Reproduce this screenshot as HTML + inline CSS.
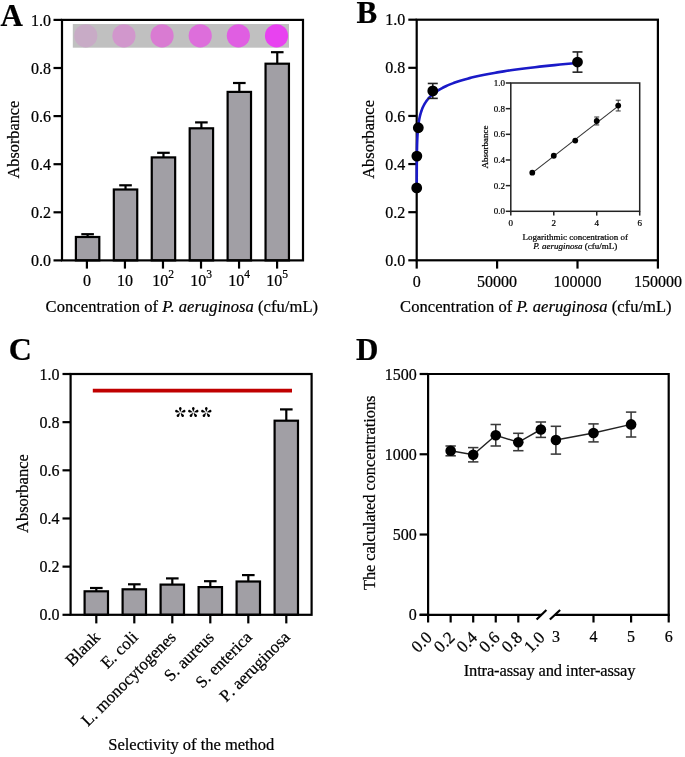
<!DOCTYPE html>
<html><head><meta charset="utf-8"><style>
html,body{margin:0;padding:0;background:#fff;}
svg{display:block;will-change:transform;}
text{font-family:"Liberation Serif",serif;fill:#000;stroke:#000;stroke-width:0.22px;}
</style></head><body>
<svg width="685" height="757" viewBox="0 0 685 757">
<rect width="685" height="757" fill="#fff"/>
<rect x="72.8" y="24" width="216.2" height="23.7" fill="#c0c0c0"/>
<circle cx="85.8" cy="35.8" r="11.6" fill="#c8abc6"/>
<circle cx="123.94" cy="35.8" r="11.6" fill="#d197cc"/>
<circle cx="162.08" cy="35.8" r="11.6" fill="#d97bd2"/>
<circle cx="200.22" cy="35.8" r="11.6" fill="#dd6edb"/>
<circle cx="238.36" cy="35.8" r="11.6" fill="#e05ee2"/>
<circle cx="276.5" cy="35.8" r="11.6" fill="#e842f0"/>
<line x1="87.6" y1="237" x2="87.6" y2="234.2" stroke="#000" stroke-width="2.2" />
<line x1="81.3" y1="234.2" x2="93.9" y2="234.2" stroke="#000" stroke-width="2.2" />
<rect x="75.9" y="237" width="23.4" height="23.4" fill="#a19fa5" stroke="#000" stroke-width="2.2"/>
<line x1="125.53" y1="189.5" x2="125.53" y2="185.3" stroke="#000" stroke-width="2.2" />
<line x1="119.23" y1="185.3" x2="131.83" y2="185.3" stroke="#000" stroke-width="2.2" />
<rect x="113.83" y="189.5" width="23.4" height="70.9" fill="#a19fa5" stroke="#000" stroke-width="2.2"/>
<line x1="163.46" y1="157.4" x2="163.46" y2="152.8" stroke="#000" stroke-width="2.2" />
<line x1="157.16" y1="152.8" x2="169.76" y2="152.8" stroke="#000" stroke-width="2.2" />
<rect x="151.76" y="157.4" width="23.4" height="103" fill="#a19fa5" stroke="#000" stroke-width="2.2"/>
<line x1="201.39" y1="128.3" x2="201.39" y2="122.4" stroke="#000" stroke-width="2.2" />
<line x1="195.09" y1="122.4" x2="207.69" y2="122.4" stroke="#000" stroke-width="2.2" />
<rect x="189.69" y="128.3" width="23.4" height="132.1" fill="#a19fa5" stroke="#000" stroke-width="2.2"/>
<line x1="239.32" y1="91.9" x2="239.32" y2="83" stroke="#000" stroke-width="2.2" />
<line x1="233.02" y1="83" x2="245.62" y2="83" stroke="#000" stroke-width="2.2" />
<rect x="227.62" y="91.9" width="23.4" height="168.5" fill="#a19fa5" stroke="#000" stroke-width="2.2"/>
<line x1="277.25" y1="63.7" x2="277.25" y2="52.2" stroke="#000" stroke-width="2.2" />
<line x1="270.95" y1="52.2" x2="283.55" y2="52.2" stroke="#000" stroke-width="2.2" />
<rect x="265.55" y="63.7" width="23.4" height="196.7" fill="#a19fa5" stroke="#000" stroke-width="2.2"/>
<rect x="62" y="19.9" width="241" height="240.5" fill="none" stroke="#000" stroke-width="2.2"/>
<line x1="53.5" y1="260.4" x2="62" y2="260.4" stroke="#000" stroke-width="2.2" />
<text x="51" y="266" font-size="16" text-anchor="end" >0.0</text>
<line x1="53.5" y1="212.3" x2="62" y2="212.3" stroke="#000" stroke-width="2.2" />
<text x="51" y="217.9" font-size="16" text-anchor="end" >0.2</text>
<line x1="53.5" y1="164.2" x2="62" y2="164.2" stroke="#000" stroke-width="2.2" />
<text x="51" y="169.8" font-size="16" text-anchor="end" >0.4</text>
<line x1="53.5" y1="116.1" x2="62" y2="116.1" stroke="#000" stroke-width="2.2" />
<text x="51" y="121.7" font-size="16" text-anchor="end" >0.6</text>
<line x1="53.5" y1="68" x2="62" y2="68" stroke="#000" stroke-width="2.2" />
<text x="51" y="73.6" font-size="16" text-anchor="end" >0.8</text>
<line x1="53.5" y1="19.9" x2="62" y2="19.9" stroke="#000" stroke-width="2.2" />
<text x="51" y="25.5" font-size="16" text-anchor="end" >1.0</text>
<line x1="86.9" y1="260.4" x2="86.9" y2="268.6" stroke="#000" stroke-width="2.2" />
<line x1="124.94" y1="260.4" x2="124.94" y2="268.6" stroke="#000" stroke-width="2.2" />
<line x1="162.98" y1="260.4" x2="162.98" y2="268.6" stroke="#000" stroke-width="2.2" />
<line x1="201.02" y1="260.4" x2="201.02" y2="268.6" stroke="#000" stroke-width="2.2" />
<line x1="239.06" y1="260.4" x2="239.06" y2="268.6" stroke="#000" stroke-width="2.2" />
<line x1="277.1" y1="260.4" x2="277.1" y2="268.6" stroke="#000" stroke-width="2.2" />
<text x="86.9" y="286" font-size="16" text-anchor="middle" >0</text>
<text x="124.94" y="286" font-size="16" text-anchor="middle" >10</text>
<text x="152.18" y="286" font-size="16" text-anchor="start" >10<tspan dy="-8.3" font-size="11.5">2</tspan></text>
<text x="190.22" y="286" font-size="16" text-anchor="start" >10<tspan dy="-8.3" font-size="11.5">3</tspan></text>
<text x="228.26" y="286" font-size="16" text-anchor="start" >10<tspan dy="-8.3" font-size="11.5">4</tspan></text>
<text x="266.3" y="286" font-size="16" text-anchor="start" >10<tspan dy="-8.3" font-size="11.5">5</tspan></text>
<text x="45.6" y="311.8" font-size="16.5" textLength="272.5" lengthAdjust="spacing">Concentration of <tspan font-style="italic">P. aeruginosa</tspan> (cfu/mL)</text>
<text transform="translate(19.3,139.6) rotate(-90)" font-size="16.3" text-anchor="middle">Absorbance</text>
<text x="0.5" y="25.9" font-size="31" font-weight="bold">A</text>
<rect x="416.7" y="19.7" width="241.2" height="240.6" fill="none" stroke="#000" stroke-width="2.2"/>
<line x1="408.3" y1="260.3" x2="416.7" y2="260.3" stroke="#000" stroke-width="2.2" />
<text x="405.2" y="265.9" font-size="16" text-anchor="end" >0.0</text>
<line x1="408.3" y1="212.18" x2="416.7" y2="212.18" stroke="#000" stroke-width="2.2" />
<text x="405.2" y="217.78" font-size="16" text-anchor="end" >0.2</text>
<line x1="408.3" y1="164.06" x2="416.7" y2="164.06" stroke="#000" stroke-width="2.2" />
<text x="405.2" y="169.66" font-size="16" text-anchor="end" >0.4</text>
<line x1="408.3" y1="115.94" x2="416.7" y2="115.94" stroke="#000" stroke-width="2.2" />
<text x="405.2" y="121.54" font-size="16" text-anchor="end" >0.6</text>
<line x1="408.3" y1="67.82" x2="416.7" y2="67.82" stroke="#000" stroke-width="2.2" />
<text x="405.2" y="73.42" font-size="16" text-anchor="end" >0.8</text>
<line x1="408.3" y1="19.7" x2="416.7" y2="19.7" stroke="#000" stroke-width="2.2" />
<text x="405.2" y="25.3" font-size="16" text-anchor="end" >1.0</text>
<line x1="416.7" y1="260.3" x2="416.7" y2="268.6" stroke="#000" stroke-width="2.2" />
<text x="416.7" y="287" font-size="16" text-anchor="middle" >0</text>
<line x1="497.1" y1="260.3" x2="497.1" y2="268.6" stroke="#000" stroke-width="2.2" />
<text x="497.1" y="287" font-size="16" text-anchor="middle" >50000</text>
<line x1="577.5" y1="260.3" x2="577.5" y2="268.6" stroke="#000" stroke-width="2.2" />
<text x="577.5" y="287" font-size="16" text-anchor="middle" >100000</text>
<line x1="657.9" y1="260.3" x2="657.9" y2="268.6" stroke="#000" stroke-width="2.2" />
<text x="657.9" y="287" font-size="16" text-anchor="middle" >150000</text>
<text x="400.1" y="311.8" font-size="16.5" textLength="271.5" lengthAdjust="spacing">Concentration of <tspan font-style="italic">P. aeruginosa</tspan> (cfu/mL)</text>
<text transform="translate(373.7,139.4) rotate(-90)" font-size="16.5" text-anchor="middle">Absorbance</text>
<text x="356.5" y="22.6" font-size="31" font-weight="bold">B</text>
<path d="M416.72,188.12 L416.72,187.6 L416.72,187.08 L416.72,186.56 L416.72,186.03 L416.72,185.51 L416.72,184.99 L416.72,184.47 L416.72,183.95 L416.72,183.43 L416.72,182.91 L416.72,182.39 L416.73,181.86 L416.73,181.34 L416.73,180.82 L416.73,180.3 L416.73,179.78 L416.73,179.26 L416.73,178.74 L416.73,178.22 L416.73,177.69 L416.74,177.17 L416.74,176.65 L416.74,176.13 L416.74,175.61 L416.74,175.09 L416.74,174.57 L416.75,174.04 L416.75,173.52 L416.75,173 L416.75,172.48 L416.75,171.96 L416.75,171.44 L416.76,170.92 L416.76,170.4 L416.76,169.87 L416.76,169.35 L416.77,168.83 L416.77,168.31 L416.77,167.79 L416.77,167.27 L416.78,166.75 L416.78,166.23 L416.78,165.7 L416.79,165.18 L416.79,164.66 L416.79,164.14 L416.8,163.62 L416.8,163.1 L416.81,162.58 L416.81,162.06 L416.81,161.53 L416.82,161.01 L416.82,160.49 L416.83,159.97 L416.83,159.45 L416.84,158.93 L416.84,158.41 L416.85,157.88 L416.85,157.36 L416.86,156.84 L416.87,156.32 L416.87,155.8 L416.88,155.28 L416.89,154.76 L416.89,154.24 L416.9,153.71 L416.91,153.19 L416.92,152.67 L416.93,152.15 L416.94,151.63 L416.95,151.11 L416.95,150.59 L416.96,150.07 L416.98,149.54 L416.99,149.02 L417,148.5 L417.01,147.98 L417.02,147.46 L417.03,146.94 L417.05,146.42 L417.06,145.89 L417.07,145.37 L417.09,144.85 L417.1,144.33 L417.12,143.81 L417.14,143.29 L417.15,142.77 L417.17,142.25 L417.19,141.72 L417.21,141.2 L417.23,140.68 L417.25,140.16 L417.27,139.64 L417.29,139.12 L417.32,138.6 L417.34,138.08 L417.37,137.55 L417.39,137.03 L417.42,136.51 L417.45,135.99 L417.48,135.47 L417.51,134.95 L417.54,134.43 L417.57,133.9 L417.6,133.38 L417.64,132.86 L417.68,132.34 L417.71,131.82 L417.75,131.3 L417.8,130.78 L417.84,130.26 L417.88,129.73 L417.93,129.21 L417.98,128.69 L418.03,128.17 L418.08,127.65 L418.13,127.13 L418.19,126.61 L418.25,126.09 L418.31,125.56 L418.37,125.04 L418.44,124.52 L418.5,124 L418.57,123.48 L418.65,122.96 L418.72,122.44 L418.8,121.91 L418.89,121.39 L418.97,120.87 L419.06,120.35 L419.15,119.83 L419.25,119.31 L419.35,118.79 L419.45,118.27 L419.56,117.74 L419.67,117.22 L419.79,116.7 L419.91,116.18 L420.03,115.66 L420.16,115.14 L420.3,114.62 L420.44,114.1 L420.59,113.57 L420.74,113.05 L420.9,112.53 L421.06,112.01 L421.23,111.49 L421.41,110.97 L421.59,110.45 L421.78,109.93 L421.98,109.4 L422.19,108.88 L422.41,108.36 L422.63,107.84 L422.86,107.32 L423.1,106.8 L423.35,106.28 L423.61,105.75 L423.88,105.23 L424.16,104.71 L424.46,104.19 L424.76,103.67 L425.07,103.15 L425.4,102.63 L425.74,102.11 L426.1,101.58 L426.46,101.06 L426.85,100.54 L427.24,100.02 L427.66,99.5 L428.08,98.98 L428.53,98.46 L428.99,97.94 L429.47,97.41 L429.97,96.89 L430.49,96.37 L431.03,95.85 L431.59,95.33 L432.17,94.81 L432.78,94.29 L433.41,93.76 L434.06,93.24 L434.74,92.72 L435.45,92.2 L436.18,91.68 L436.94,91.16 L437.74,90.64 L438.56,90.12 L439.41,89.59 L440.3,89.07 L441.23,88.55 L442.19,88.03 L443.18,87.51 L444.22,86.99 L445.29,86.47 L446.41,85.95 L447.58,85.42 L448.78,84.9 L450.04,84.38 L451.34,83.86 L452.7,83.34 L454.11,82.82 L455.57,82.3 L457.09,81.77 L458.67,81.25 L460.31,80.73 L462.02,80.21 L463.79,79.69 L465.63,79.17 L467.55,78.65 L469.54,78.13 L471.61,77.6 L473.75,77.08 L475.99,76.56 L478.31,76.04 L480.72,75.52 L483.22,75 L485.82,74.48 L488.53,73.96 L491.34,73.43 L494.26,72.91 L497.29,72.39 L500.44,71.87 L503.72,71.35 L507.12,70.83 L510.66,70.31 L514.34,69.78 L518.16,69.26 L522.13,68.74 L526.25,68.22 L530.54,67.7 L534.99,67.18 L539.62,66.66 L544.43,66.14 L549.42,65.61 L554.62,65.09 L560.01,64.57 L565.62,64.05 L571.45,63.53 L577.5,63.01" fill="none" stroke="#1a1ac8" stroke-width="2.6"/>
<circle cx="416.72" cy="187.88" r="5.4" fill="#000"/>
<circle cx="416.86" cy="156.12" r="5.4" fill="#000"/>
<circle cx="418.31" cy="127.73" r="5.4" fill="#000"/>
<line x1="432.78" y1="83.46" x2="432.78" y2="98.38" stroke="#222" stroke-width="1.6" />
<line x1="427.78" y1="83.46" x2="437.78" y2="83.46" stroke="#222" stroke-width="1.6" />
<line x1="427.78" y1="98.38" x2="437.78" y2="98.38" stroke="#222" stroke-width="1.6" />
<circle cx="432.78" cy="90.92" r="5.4" fill="#000"/>
<line x1="577.5" y1="51.94" x2="577.5" y2="72.15" stroke="#222" stroke-width="1.6" />
<line x1="572.5" y1="51.94" x2="582.5" y2="51.94" stroke="#222" stroke-width="1.6" />
<line x1="572.5" y1="72.15" x2="582.5" y2="72.15" stroke="#222" stroke-width="1.6" />
<circle cx="577.5" cy="62.05" r="5.4" fill="#000"/>
<rect x="510.8" y="83.0" width="128.9" height="128.3" fill="#fff" stroke="#222" stroke-width="1.5"/>
<line x1="505.8" y1="211.3" x2="510.8" y2="211.3" stroke="#222" stroke-width="1.5" />
<text x="505" y="214.4" font-size="9" text-anchor="end" >0.0</text>
<line x1="505.8" y1="185.64" x2="510.8" y2="185.64" stroke="#222" stroke-width="1.5" />
<text x="505" y="188.74" font-size="9" text-anchor="end" >0.2</text>
<line x1="505.8" y1="159.98" x2="510.8" y2="159.98" stroke="#222" stroke-width="1.5" />
<text x="505" y="163.08" font-size="9" text-anchor="end" >0.4</text>
<line x1="505.8" y1="134.32" x2="510.8" y2="134.32" stroke="#222" stroke-width="1.5" />
<text x="505" y="137.42" font-size="9" text-anchor="end" >0.6</text>
<line x1="505.8" y1="108.66" x2="510.8" y2="108.66" stroke="#222" stroke-width="1.5" />
<text x="505" y="111.76" font-size="9" text-anchor="end" >0.8</text>
<line x1="505.8" y1="83" x2="510.8" y2="83" stroke="#222" stroke-width="1.5" />
<text x="505" y="86.1" font-size="9" text-anchor="end" >1.0</text>
<line x1="510.8" y1="211.3" x2="510.8" y2="215.6" stroke="#222" stroke-width="1.5" />
<text x="510.8" y="226" font-size="9" text-anchor="middle" >0</text>
<line x1="553.77" y1="211.3" x2="553.77" y2="215.6" stroke="#222" stroke-width="1.5" />
<text x="553.77" y="226" font-size="9" text-anchor="middle" >2</text>
<line x1="596.73" y1="211.3" x2="596.73" y2="215.6" stroke="#222" stroke-width="1.5" />
<text x="596.73" y="226" font-size="9" text-anchor="middle" >4</text>
<line x1="639.7" y1="211.3" x2="639.7" y2="215.6" stroke="#222" stroke-width="1.5" />
<text x="639.7" y="226" font-size="9" text-anchor="middle" >6</text>
<text x="575.3" y="239.6" font-size="9" text-anchor="middle" >Logarithmic concentration of</text>
<text x="575.3" y="249.2" font-size="9" text-anchor="middle" ><tspan font-style="italic">P. aeruginosa</tspan> (cfu/mL)</text>
<text transform="translate(488,147) rotate(-90)" font-size="9" text-anchor="middle">Absorbance</text>
<line x1="532.28" y1="172.81" x2="618.22" y2="106.09" stroke="#333" stroke-width="1.1" />
<circle cx="532.28" cy="172.68" r="2.9" fill="#000"/>
<circle cx="553.77" cy="155.75" r="2.9" fill="#000"/>
<circle cx="575.25" cy="140.61" r="2.9" fill="#000"/>
<line x1="596.73" y1="117" x2="596.73" y2="124.95" stroke="#333" stroke-width="1" />
<line x1="594.23" y1="117" x2="599.23" y2="117" stroke="#333" stroke-width="1" />
<line x1="594.23" y1="124.95" x2="599.23" y2="124.95" stroke="#333" stroke-width="1" />
<circle cx="596.73" cy="120.98" r="2.9" fill="#000"/>
<line x1="618.22" y1="100.19" x2="618.22" y2="110.97" stroke="#333" stroke-width="1" />
<line x1="615.72" y1="100.19" x2="620.72" y2="100.19" stroke="#333" stroke-width="1" />
<line x1="615.72" y1="110.97" x2="620.72" y2="110.97" stroke="#333" stroke-width="1" />
<circle cx="618.22" cy="105.58" r="2.9" fill="#000"/>
<line x1="96.3" y1="591.3" x2="96.3" y2="588" stroke="#000" stroke-width="2.2" />
<line x1="90" y1="588" x2="102.6" y2="588" stroke="#000" stroke-width="2.2" />
<rect x="84.6" y="591.3" width="23.4" height="23.5" fill="#a19fa5" stroke="#000" stroke-width="2.2"/>
<line x1="134.3" y1="589.3" x2="134.3" y2="584.3" stroke="#000" stroke-width="2.2" />
<line x1="128" y1="584.3" x2="140.6" y2="584.3" stroke="#000" stroke-width="2.2" />
<rect x="122.6" y="589.3" width="23.4" height="25.5" fill="#a19fa5" stroke="#000" stroke-width="2.2"/>
<line x1="172.3" y1="584.6" x2="172.3" y2="578.4" stroke="#000" stroke-width="2.2" />
<line x1="166" y1="578.4" x2="178.6" y2="578.4" stroke="#000" stroke-width="2.2" />
<rect x="160.6" y="584.6" width="23.4" height="30.2" fill="#a19fa5" stroke="#000" stroke-width="2.2"/>
<line x1="210.3" y1="587.1" x2="210.3" y2="581.2" stroke="#000" stroke-width="2.2" />
<line x1="204" y1="581.2" x2="216.6" y2="581.2" stroke="#000" stroke-width="2.2" />
<rect x="198.6" y="587.1" width="23.4" height="27.7" fill="#a19fa5" stroke="#000" stroke-width="2.2"/>
<line x1="248.3" y1="581.5" x2="248.3" y2="575.1" stroke="#000" stroke-width="2.2" />
<line x1="242" y1="575.1" x2="254.6" y2="575.1" stroke="#000" stroke-width="2.2" />
<rect x="236.6" y="581.5" width="23.4" height="33.3" fill="#a19fa5" stroke="#000" stroke-width="2.2"/>
<line x1="286.3" y1="420.7" x2="286.3" y2="409.4" stroke="#000" stroke-width="2.2" />
<line x1="280" y1="409.4" x2="292.6" y2="409.4" stroke="#000" stroke-width="2.2" />
<rect x="274.6" y="420.7" width="23.4" height="194.1" fill="#a19fa5" stroke="#000" stroke-width="2.2"/>
<rect x="70.6" y="374.0" width="241" height="240.8" fill="none" stroke="#000" stroke-width="2.2"/>
<line x1="62.5" y1="614.8" x2="70.6" y2="614.8" stroke="#000" stroke-width="2.2" />
<text x="59.5" y="620.4" font-size="16" text-anchor="end" >0.0</text>
<line x1="62.5" y1="566.64" x2="70.6" y2="566.64" stroke="#000" stroke-width="2.2" />
<text x="59.5" y="572.24" font-size="16" text-anchor="end" >0.2</text>
<line x1="62.5" y1="518.48" x2="70.6" y2="518.48" stroke="#000" stroke-width="2.2" />
<text x="59.5" y="524.08" font-size="16" text-anchor="end" >0.4</text>
<line x1="62.5" y1="470.32" x2="70.6" y2="470.32" stroke="#000" stroke-width="2.2" />
<text x="59.5" y="475.92" font-size="16" text-anchor="end" >0.6</text>
<line x1="62.5" y1="422.16" x2="70.6" y2="422.16" stroke="#000" stroke-width="2.2" />
<text x="59.5" y="427.76" font-size="16" text-anchor="end" >0.8</text>
<line x1="62.5" y1="374" x2="70.6" y2="374" stroke="#000" stroke-width="2.2" />
<text x="59.5" y="379.6" font-size="16" text-anchor="end" >1.0</text>
<line x1="96.3" y1="614.8" x2="96.3" y2="623.4" stroke="#000" stroke-width="2.2" />
<text transform="translate(100.9,638.2) rotate(-45)" font-size="17" text-anchor="end">Blank</text>
<line x1="134.3" y1="614.8" x2="134.3" y2="623.4" stroke="#000" stroke-width="2.2" />
<text transform="translate(138.9,638.2) rotate(-45)" font-size="17" text-anchor="end">E. coli</text>
<line x1="172.3" y1="614.8" x2="172.3" y2="623.4" stroke="#000" stroke-width="2.2" />
<text transform="translate(176.9,638.2) rotate(-45)" font-size="17" text-anchor="end">L. monocytogenes</text>
<line x1="210.3" y1="614.8" x2="210.3" y2="623.4" stroke="#000" stroke-width="2.2" />
<text transform="translate(214.9,638.2) rotate(-45)" font-size="17" text-anchor="end">S. aureus</text>
<line x1="248.3" y1="614.8" x2="248.3" y2="623.4" stroke="#000" stroke-width="2.2" />
<text transform="translate(252.9,638.2) rotate(-45)" font-size="17" text-anchor="end">S. enterica</text>
<line x1="286.3" y1="614.8" x2="286.3" y2="623.4" stroke="#000" stroke-width="2.2" />
<text transform="translate(290.9,638.2) rotate(-45)" font-size="17" text-anchor="end">P<tspan dx="1.6">.</tspan> aeruginosa</text>
<line x1="92.8" y1="390.6" x2="292" y2="390.6" stroke="#c00000" stroke-width="3.6"/>
<g transform="translate(180.3,412.4)" fill="#000"><path d="M0,-0.45 L-1.2,-3.5 A1.32,1.32 0 1 1 1.2,-3.5 Z" transform="rotate(0)"/><path d="M0,-0.45 L-1.2,-3.5 A1.32,1.32 0 1 1 1.2,-3.5 Z" transform="rotate(72)"/><path d="M0,-0.45 L-1.2,-3.5 A1.32,1.32 0 1 1 1.2,-3.5 Z" transform="rotate(144)"/><path d="M0,-0.45 L-1.2,-3.5 A1.32,1.32 0 1 1 1.2,-3.5 Z" transform="rotate(216)"/><path d="M0,-0.45 L-1.2,-3.5 A1.32,1.32 0 1 1 1.2,-3.5 Z" transform="rotate(288)"/></g>
<g transform="translate(193.3,412.4)" fill="#000"><path d="M0,-0.45 L-1.2,-3.5 A1.32,1.32 0 1 1 1.2,-3.5 Z" transform="rotate(0)"/><path d="M0,-0.45 L-1.2,-3.5 A1.32,1.32 0 1 1 1.2,-3.5 Z" transform="rotate(72)"/><path d="M0,-0.45 L-1.2,-3.5 A1.32,1.32 0 1 1 1.2,-3.5 Z" transform="rotate(144)"/><path d="M0,-0.45 L-1.2,-3.5 A1.32,1.32 0 1 1 1.2,-3.5 Z" transform="rotate(216)"/><path d="M0,-0.45 L-1.2,-3.5 A1.32,1.32 0 1 1 1.2,-3.5 Z" transform="rotate(288)"/></g>
<g transform="translate(206.3,412.4)" fill="#000"><path d="M0,-0.45 L-1.2,-3.5 A1.32,1.32 0 1 1 1.2,-3.5 Z" transform="rotate(0)"/><path d="M0,-0.45 L-1.2,-3.5 A1.32,1.32 0 1 1 1.2,-3.5 Z" transform="rotate(72)"/><path d="M0,-0.45 L-1.2,-3.5 A1.32,1.32 0 1 1 1.2,-3.5 Z" transform="rotate(144)"/><path d="M0,-0.45 L-1.2,-3.5 A1.32,1.32 0 1 1 1.2,-3.5 Z" transform="rotate(216)"/><path d="M0,-0.45 L-1.2,-3.5 A1.32,1.32 0 1 1 1.2,-3.5 Z" transform="rotate(288)"/></g>
<text x="108.3" y="750.3" font-size="16.5" textLength="166" lengthAdjust="spacing">Selectivity of the method</text>
<text transform="translate(28.3,493.6) rotate(-90)" font-size="16.5" text-anchor="middle">Absorbance</text>
<text x="8.7" y="360.3" font-size="32" font-weight="bold">C</text>
<path d="M428.1,614.8 V374.0 H668.7 V614.8" fill="none" stroke="#000" stroke-width="2.2"/>
<line x1="419.6" y1="614.8" x2="541.5" y2="614.8" stroke="#000" stroke-width="2.2" />
<line x1="555" y1="614.8" x2="669.8" y2="614.8" stroke="#000" stroke-width="2.2" />
<line x1="536.6" y1="619.5" x2="546.4" y2="610" stroke="#000" stroke-width="2.2" />
<line x1="549.9" y1="619.5" x2="560.1" y2="610" stroke="#000" stroke-width="2.2" />
<line x1="419.6" y1="614.8" x2="428.1" y2="614.8" stroke="#000" stroke-width="2.2" />
<text x="416.8" y="620.4" font-size="16" text-anchor="end" >0</text>
<line x1="419.6" y1="534.53" x2="428.1" y2="534.53" stroke="#000" stroke-width="2.2" />
<text x="416.8" y="540.13" font-size="16" text-anchor="end" >500</text>
<line x1="419.6" y1="454.27" x2="428.1" y2="454.27" stroke="#000" stroke-width="2.2" />
<text x="416.8" y="459.87" font-size="16" text-anchor="end" >1000</text>
<line x1="419.6" y1="374" x2="428.1" y2="374" stroke="#000" stroke-width="2.2" />
<text x="416.8" y="379.6" font-size="16" text-anchor="end" >1500</text>
<line x1="428.1" y1="614.8" x2="428.1" y2="622.5" stroke="#000" stroke-width="2.2" />
<line x1="450.65" y1="614.8" x2="450.65" y2="622.5" stroke="#000" stroke-width="2.2" />
<line x1="473.2" y1="614.8" x2="473.2" y2="622.5" stroke="#000" stroke-width="2.2" />
<line x1="495.75" y1="614.8" x2="495.75" y2="622.5" stroke="#000" stroke-width="2.2" />
<line x1="518.3" y1="614.8" x2="518.3" y2="622.5" stroke="#000" stroke-width="2.2" />
<line x1="593.5" y1="614.8" x2="593.5" y2="622.5" stroke="#000" stroke-width="2.2" />
<line x1="631.1" y1="614.8" x2="631.1" y2="622.5" stroke="#000" stroke-width="2.2" />
<line x1="668.7" y1="614.8" x2="668.7" y2="622.5" stroke="#000" stroke-width="2.2" />
<text transform="translate(433.1,638.5) rotate(-45)" font-size="17" text-anchor="end">0.0</text>
<text transform="translate(455.65,638.5) rotate(-45)" font-size="17" text-anchor="end">0.2</text>
<text transform="translate(478.2,638.5) rotate(-45)" font-size="17" text-anchor="end">0.4</text>
<text transform="translate(500.75,638.5) rotate(-45)" font-size="17" text-anchor="end">0.6</text>
<text transform="translate(523.3,638.5) rotate(-45)" font-size="17" text-anchor="end">0.8</text>
<text transform="translate(545.85,638.5) rotate(-45)" font-size="17" text-anchor="end">1.0</text>
<text x="555.9" y="641.8" font-size="16" text-anchor="middle" >3</text>
<text x="593.5" y="641.8" font-size="16" text-anchor="middle" >4</text>
<text x="631.1" y="641.8" font-size="16" text-anchor="middle" >5</text>
<text x="668.7" y="641.8" font-size="16" text-anchor="middle" >6</text>
<text x="463.7" y="675.9" font-size="16.5" textLength="171.8" lengthAdjust="spacing">Intra-assay and inter-assay</text>
<text transform="translate(374.7,492.8) rotate(-90)" font-size="16.5" text-anchor="middle" textLength="194.6" lengthAdjust="spacing">The calculated concentrations</text>
<text x="356" y="359.9" font-size="31" font-weight="bold">D</text>
<path d="M450.65,450.7 L473.2,454.8 L495.75,435.2 L518.3,442.3 L540.85,429.5" fill="none" stroke="#222" stroke-width="1.45"/>
<path d="M555.9,440 L593.5,433 L631.1,424.4" fill="none" stroke="#222" stroke-width="1.45"/>
<line x1="450.65" y1="446" x2="450.65" y2="455.8" stroke="#3a3a3a" stroke-width="1.55" />
<line x1="445.45" y1="446" x2="455.85" y2="446" stroke="#3a3a3a" stroke-width="1.55" />
<line x1="445.45" y1="455.8" x2="455.85" y2="455.8" stroke="#3a3a3a" stroke-width="1.55" />
<circle cx="450.65" cy="450.7" r="5.3" fill="#000"/>
<line x1="473.2" y1="447.6" x2="473.2" y2="461.9" stroke="#3a3a3a" stroke-width="1.55" />
<line x1="468" y1="447.6" x2="478.4" y2="447.6" stroke="#3a3a3a" stroke-width="1.55" />
<line x1="468" y1="461.9" x2="478.4" y2="461.9" stroke="#3a3a3a" stroke-width="1.55" />
<circle cx="473.2" cy="454.8" r="5.3" fill="#000"/>
<line x1="495.75" y1="424.5" x2="495.75" y2="446" stroke="#3a3a3a" stroke-width="1.55" />
<line x1="490.55" y1="424.5" x2="500.95" y2="424.5" stroke="#3a3a3a" stroke-width="1.55" />
<line x1="490.55" y1="446" x2="500.95" y2="446" stroke="#3a3a3a" stroke-width="1.55" />
<circle cx="495.75" cy="435.2" r="5.3" fill="#000"/>
<line x1="518.3" y1="433.3" x2="518.3" y2="450.7" stroke="#3a3a3a" stroke-width="1.55" />
<line x1="513.1" y1="433.3" x2="523.5" y2="433.3" stroke="#3a3a3a" stroke-width="1.55" />
<line x1="513.1" y1="450.7" x2="523.5" y2="450.7" stroke="#3a3a3a" stroke-width="1.55" />
<circle cx="518.3" cy="442.3" r="5.3" fill="#000"/>
<line x1="540.85" y1="422" x2="540.85" y2="437.4" stroke="#3a3a3a" stroke-width="1.55" />
<line x1="535.65" y1="422" x2="546.05" y2="422" stroke="#3a3a3a" stroke-width="1.55" />
<line x1="535.65" y1="437.4" x2="546.05" y2="437.4" stroke="#3a3a3a" stroke-width="1.55" />
<circle cx="540.85" cy="429.5" r="5.3" fill="#000"/>
<line x1="555.9" y1="426.3" x2="555.9" y2="454.1" stroke="#3a3a3a" stroke-width="1.55" />
<line x1="550.7" y1="426.3" x2="561.1" y2="426.3" stroke="#3a3a3a" stroke-width="1.55" />
<line x1="550.7" y1="454.1" x2="561.1" y2="454.1" stroke="#3a3a3a" stroke-width="1.55" />
<circle cx="555.9" cy="440" r="5.3" fill="#000"/>
<line x1="593.5" y1="423.9" x2="593.5" y2="441.9" stroke="#3a3a3a" stroke-width="1.55" />
<line x1="588.3" y1="423.9" x2="598.7" y2="423.9" stroke="#3a3a3a" stroke-width="1.55" />
<line x1="588.3" y1="441.9" x2="598.7" y2="441.9" stroke="#3a3a3a" stroke-width="1.55" />
<circle cx="593.5" cy="433" r="5.3" fill="#000"/>
<line x1="631.1" y1="412.1" x2="631.1" y2="437" stroke="#3a3a3a" stroke-width="1.55" />
<line x1="625.9" y1="412.1" x2="636.3" y2="412.1" stroke="#3a3a3a" stroke-width="1.55" />
<line x1="625.9" y1="437" x2="636.3" y2="437" stroke="#3a3a3a" stroke-width="1.55" />
<circle cx="631.1" cy="424.4" r="5.3" fill="#000"/>
</svg>
</body></html>
